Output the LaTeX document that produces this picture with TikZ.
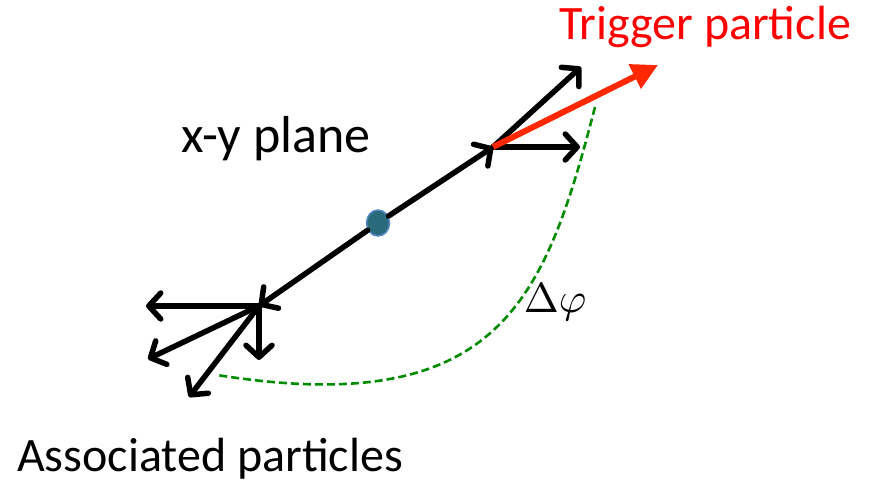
\documentclass[tikz,border=0pt]{standalone}
\usepackage{fontspec}
\setmainfont{Carlito}
\usetikzlibrary{arrows.meta,shapes.geometric}
\definecolor{trigred}{RGB}{255,40,0}
\definecolor{labred}{RGB}{255,0,0}
\definecolor{dphigreen}{RGB}{0,140,0}
\definecolor{dotfill}{RGB}{42,107,123}
\definecolor{dotedge}{RGB}{85,135,195}
\tikzset{
  partarrow/.style={line width=5.5pt,line cap=round,black,
    -{Straight Barb[length=12pt,width=26pt,line width=5.5pt,round]}},
  trigarrow/.style={line width=6pt,trigred,-{Triangle[length=26pt,width=26pt]}},
  dphicurve/.style={dphigreen,line width=2.6pt,dash pattern=on 8pt off 4pt},
  biglabel/.style={inner sep=0pt,anchor=base},
}
\begin{document}
\begin{tikzpicture}[x=1pt,y=-1pt]
\useasboundingbox (0,0) rectangle (871,484);
% points
\coordinate (u) at (493,147);
\coordinate (l) at (259,306);
\coordinate (u1) at (581,67);
\coordinate (u2) at (580,147);
\coordinate (rt) at (658,65);
\coordinate (l1) at (146,306);
\coordinate (l2) at (148,359);
\coordinate (l3) at (189,397);
\coordinate (l4) at (259,360);
\coordinate (gs) at (595,107);
\coordinate (ge) at (217,375);
% green dphi curve
\draw[dphicurve] (gs) .. controls (545,300) and (500,420) .. (ge);
% upper arrows
\draw[partarrow] (u) -- (u1);
\draw[partarrow] (u) -- (u2);
\draw[trigarrow] (u) -- (rt);
% lower arrows
\draw[partarrow] (l) -- (l1);
\draw[partarrow] (l) -- (l2);
\draw[partarrow] (l) -- (l3);
\draw[partarrow] (l) -- (l4);
% central dot and back-to-back arrows
\node[ellipse,draw=dotedge,line width=1.5pt,fill=dotfill,minimum width=23pt,minimum height=26pt,inner sep=0pt] (c) at (378,223) {};
\draw[partarrow] (c) -- (u);
\draw[partarrow] (c) -- (l);
% labels
\node[biglabel] (xy) at (276,153) {\fontsize{52}{56}\selectfont x-y plane};
\node[biglabel,text=labred] (trig) at (705,40) {\fontsize{48}{52}\selectfont Trigger particle};
\node[biglabel] (assoc) at (210,471) {\fontsize{48}{52}\selectfont Associated particles};
\node[biglabel] (dphi) at (555,312) {\scalebox{4.2}{$\Delta\varphi$}};
\end{tikzpicture}
\end{document}
